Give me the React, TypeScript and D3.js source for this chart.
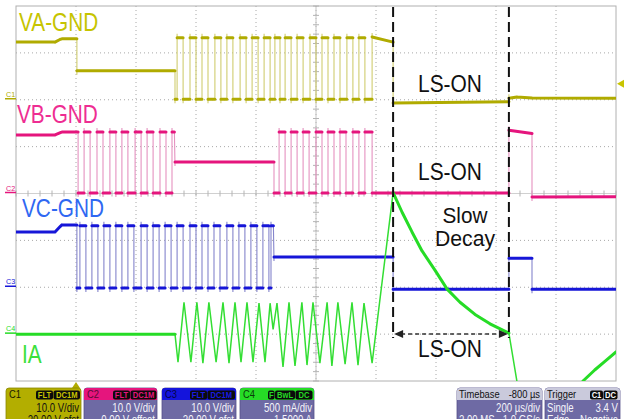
import React from 'react';
import * as d3 from 'd3';

const W = 624, H = 419;
const PX0 = 16, PX1 = 616, PY0 = 6, PY1 = 381;
const FONT = "'Liberation Sans', Arial, Helvetica, sans-serif";

// time axis (µs), trigger at 0, 200 µs/div, 10 divisions
const timeDomain = [-200, 1800];
// channel settings: volts (amps) per div and zero position in divisions from centre
const chPerDiv = [10, 10, 10, 0.5];
const chZeroDiv = [2, 0, -2, -3];

// ---- C1 : VA-GND (V) ----
const vaPre: [number, number][] = [[-200, 12.3], [-70, 12.3], [-52, 12.9], [-47, 13.0], [3, 13.0], [3, 6.2], [330, 6.2], [330, 0.1]];
const vaRise = [337, 380, 420, 463, 503, 547, 587, 627, 663, 697, 737, 780, 820, 860, 903, 943];
const vaFall = [357, 400, 440, 483, 523, 567, 607, 647, 680, 717, 757, 800, 840, 880, 923, 963];
const vaHigh = 13.2, vaLow = 0.1;
const vaPost: [number, number][] = [[987, 0.1], [987, 13.4], [1057, 12.3], [1057, -0.7], [1443, -0.4], [1443, 0.3], [1470, 0.6], [1520, 0.4], [1800, 0.3]];

// ---- C2 : VB-GND (V) ----
const vbPre: [number, number][] = [[-200, 12.5], [-70, 12.5], [-52, 13.0], [-47, 13.1], [7, 13.1], [7, 0.1]];
const vbRise1 = [27, 70, 113, 153, 197, 237, 280];
const vbFall1 = [47, 90, 133, 173, 217, 257, 300];
const vbMid: [number, number][] = [[320, 0.1], [320, 13.1], [328, 13.1], [330, 6.7], [660, 6.7], [660, 0.1]];
const vbRise2 = [677, 717, 757, 800, 840, 880, 923, 963];
const vbFall2 = [697, 737, 777, 820, 860, 900, 943, 987];
const vbHigh = 13.1, vbLow = 0.1;
const vbPost: [number, number][] = [[1443, 0.1], [1443, 13.5], [1520, 12.8], [1520, -0.75], [1800, -0.7]];

// ---- C3 : VC-GND (V) ----
const vcPre: [number, number][] = [[-200, 11.8], [-70, 11.8], [-52, 13.0], [-47, 13.3], [3, 13.3], [3, -0.15]];
const vcRise = [13, 53, 93, 133, 173, 217, 257, 297, 337, 380, 420, 460, 503, 543, 583, 623];
const vcFall = [33, 73, 113, 153, 193, 237, 277, 317, 357, 400, 440, 480, 523, 563, 603, 643];
const vcHigh = 13.1, vcLow = -0.15;
const vcPost: [number, number][] = [[650, -0.15], [650, 13.1], [658, 13.1], [660, 6.45], [1057, 6.45], [1057, -0.4], [1443, -0.4], [1443, 6.2], [1520, 6.2], [1520, -0.4], [1800, -0.4]];

// ---- C4 : IA (A) ----
const iaPoints: [number, number][] = [
  [-200, 0], [330, 0], [340, -0.30], [360, 0.34], [383, -0.30], [403, 0.34], [423, -0.31], [443, 0.34],
  [467, -0.30], [490, 0.34], [510, -0.31], [530, 0.34], [550, -0.30], [570, 0.34], [590, -0.30], [610, 0.33],
  [630, -0.30], [647, 0.33], [657, 0.05], [670, 0.33], [690, -0.35], [710, 0.34], [730, -0.34], [753, 0.34],
  [770, -0.33], [790, 0.34], [813, -0.31], [837, 0.34], [853, -0.34], [873, 0.34], [897, -0.32], [920, 0.34],
  [940, -0.33], [960, 0.33], [987, -0.31], [1057, 1.51], [1087, 1.30], [1120, 1.09], [1153, 0.89], [1197, 0.68],
  [1237, 0.48], [1280, 0.34], [1330, 0.21], [1380, 0.11], [1443, 0.01], [1480, -0.70], [1660, -0.75],
  [1690, -0.50], [1730, -0.38], [1763, -0.29], [1800, -0.19],
];

// annotations
const lsOnStart = 1057, lsOnEnd = 1443;
const triggerLevel = 3.4; // V on C1

function pulseTrain(rises: number[], falls: number[], hi: number, lo: number): [number, number][] {
  const out: [number, number][] = [];
  rises.forEach((r, i) => { out.push([r, lo], [r, hi], [falls[i], hi], [falls[i], lo]); });
  return out;
}

const vaData = [...vaPre, ...pulseTrain(vaRise, vaFall, vaHigh, vaLow), ...vaPost];
const vbData = [...vbPre, ...pulseTrain(vbRise1, vbFall1, vbHigh, vbLow), ...vbMid, ...pulseTrain(vbRise2, vbFall2, vbHigh, vbLow), ...vbPost];
const vcData = [...vcPre, ...pulseTrain(vcRise, vcFall, vcHigh, vcLow), ...vcPost];

const x = d3.scaleLinear().domain(timeDomain).range([PX0, PX1]);
const yScales = chPerDiv.map((pd, i) =>
  d3.scaleLinear().domain([(-4 - chZeroDiv[i]) * pd, (4 - chZeroDiv[i]) * pd]).range([PY1, PY0]));

function tracePaths(pts: [number, number][], ys: d3.ScaleLinear<number, number>, overshoot: number) {
  let thick = '', thin = '';
  for (let i = 1; i < pts.length; i++) {
    const x0 = x(pts[i - 1][0]), y0 = ys(pts[i - 1][1]);
    const x1 = x(pts[i][0]), y1 = ys(pts[i][1]);
    const dx = Math.abs(x1 - x0), dy = Math.abs(y1 - y0);
    if (dx === 0 && dy === 0) continue;
    if (dy <= 3 * dx) thick += `M${x0.toFixed(2)},${y0.toFixed(2)}L${x1.toFixed(2)},${y1.toFixed(2)}`;
    else {
      const ye = y1 + Math.sign(y1 - y0) * overshoot;
      thin += `M${x0.toFixed(2)},${y0.toFixed(2)}L${x1.toFixed(2)},${ye.toFixed(2)}`;
    }
  }
  return { thick, thin };
}

function ST({ x: tx, y: ty, sx = 0.82, anchor = 'start', size = 11, fill = '#fff', weight = 'normal', children }: any) {
  return (
    <text transform={`translate(${tx},${ty}) scale(${sx},1)`} textAnchor={anchor} fontSize={size}
      fill={fill} fontWeight={weight} fontFamily={FONT}>{children}</text>
  );
}

function Chip({ x0, w, label, fill }: any) {
  return (
    <g>
      <rect x={x0} y={390.5} width={w} height={9} rx={2} fill="#0b0b0b" />
      <ST x={x0 + w / 2} y={398.3} anchor="middle" size={9.5} sx={0.8} fill={fill} weight="bold">{label}</ST>
    </g>
  );
}

const traces = [
  { data: vaData, ch: 0, color: '#b0ab00', edge: '#d0cd70', tw: 3, nw: 1.1, os: 4 },
  { data: vbData, ch: 1, color: '#e5157d', edge: '#e592c0', tw: 3, nw: 1.1, os: 4 },
  { data: vcData, ch: 2, color: '#1616d8', edge: '#8585cc', tw: 3, nw: 1.1, os: 4 },
  { data: iaPoints, ch: 3, color: '#26dc26', edge: '#33de33', tw: 3, nw: 1.5, os: 0 },
];

const markers = [
  { label: 'C1', ch: 0, color: '#b0ab00' },
  { label: 'C2', ch: 1, color: '#e5157d' },
  { label: 'C3', ch: 2, color: '#1616d8' },
  { label: 'C4', ch: 3, color: '#26dc26' },
];

export default function App() {
  const gx = d3.range(11).map(i => PX0 + i * (PX1 - PX0) / 10);
  const gy = d3.range(9).map(i => PY0 + i * (PY1 - PY0) / 8);
  const cx = (PX0 + PX1) / 2, cy = (PY0 + PY1) / 2;
  const tickX = d3.range(51).map(i => PX0 + i * (PX1 - PX0) / 50);
  const tickY = d3.range(41).map(i => PY0 + i * (PY1 - PY0) / 40);
  const xs = x(lsOnStart), xe = x(lsOnEnd);
  const trigY = yScales[0](triggerLevel);
  const trigX = x(0);
  const arrowY = 334;

  return (
    <svg width={W} height={H} style={{ position: 'fixed', left: 0, top: 0, display: 'block' }}
      fontFamily={FONT}>
      <defs>
        <clipPath id="plot"><rect x={PX0} y={PY0} width={PX1 - PX0} height={PY1 - PY0} /></clipPath>
      </defs>
      <rect width={W} height={H} fill="#ffffff" />
      {/* grid */}
      <g>
        {gx.slice(1, -1).map((gxx, i) => (
          <line key={'gx' + i} x1={gxx} x2={gxx} y1={PY0} y2={PY1} stroke="#a8a8a8" strokeWidth={1} strokeDasharray="1,3" />
        ))}
        {gy.slice(1, -1).map((gyy, i) => (
          <line key={'gy' + i} x1={PX0} x2={PX1} y1={gyy} y2={gyy} stroke="#a8a8a8" strokeWidth={1} strokeDasharray="1,3" />
        ))}
        <line x1={cx} x2={cx} y1={PY0} y2={PY1} stroke="#c4c4c4" strokeWidth={1} />
        <line x1={PX0} x2={PX1} y1={cy} y2={cy} stroke="#d0d0d0" strokeWidth={1} />
        {tickY.map((t, i) => <line key={'ty' + i} x1={cx - 3} x2={cx + 3} y1={t} y2={t} stroke="#b4b4b4" />)}
        {tickX.map((t, i) => <line key={'tx' + i} x1={t} x2={t} y1={cy - 3} y2={cy + 3} stroke="#b4b4b4" />)}
        <rect x={PX0} y={PY0} width={PX1 - PX0} height={PY1 - PY0} fill="none" stroke="#b0b0b0" strokeWidth={1} />
      </g>

      {/* traces */}
      <g clipPath="url(#plot)">
        {traces.map((tr, i) => {
          const p = tracePaths(tr.data, yScales[tr.ch], tr.os);
          return (
            <g key={'tr' + i}>
              <path d={p.thin} stroke={tr.edge} strokeWidth={tr.nw} fill="none" />
              <path d={p.thick} stroke={tr.color} strokeWidth={tr.tw} fill="none" strokeLinecap="round" strokeLinejoin="round" />
            </g>
          );
        })}
      </g>

      {/* channel ground markers */}
      {markers.map((m, i) => {
        const y0 = yScales[m.ch](0);
        return (
          <g key={'m' + i}>
            <ST x={6} y={y0 - 3} size={8} sx={0.9} fill={m.color}>{m.label}</ST>
            <line x1={5} x2={16} y1={y0 - 1} y2={y0 - 1} stroke={m.color} strokeWidth={1.5} />
          </g>
        );
      })}

      {/* trigger level & position */}
      <path d={`M${PX1 + 1},${trigY} L${PX1 + 8},${trigY - 4} L${PX1 + 8},${trigY + 4} Z`} fill="#c8c400" />
      <path d={`M${trigX},${PY1 + 1} L${trigX - 4},${PY1 + 7} L${trigX + 4},${PY1 + 7} Z`} fill="#b0ab00" />

      {/* channel labels */}
      <ST x={19} y={31} size={26} sx={0.8} fill="#c6c400">VA-GND</ST>
      <ST x={17} y={123} size={26} sx={0.8} fill="#ee2d92">VB-GND</ST>
      <ST x={22} y={217} size={26} sx={0.8} fill="#2f68f2">VC-GND</ST>
      <ST x={22} y={363} size={26} sx={0.8} fill="#3be03b">IA</ST>

      {/* annotations */}
      <line x1={xs} x2={xs} y1={PY0 + 1} y2={338} stroke="#111" strokeWidth={2} strokeDasharray="10,5" />
      <line x1={xe} x2={xe} y1={PY0 + 1} y2={338} stroke="#111" strokeWidth={2} strokeDasharray="10,5" />
      <line x1={xs + 8} x2={xe - 8} y1={arrowY} y2={arrowY} stroke="#333" strokeWidth={1.5} strokeDasharray="4,3" />
      <path d={`M${xs + 1},${arrowY} L${xs + 10},${arrowY - 4} L${xs + 10},${arrowY + 4} Z`} fill="#222" />
      <path d={`M${xe - 1},${arrowY} L${xe - 10},${arrowY - 4} L${xe - 10},${arrowY + 4} Z`} fill="#222" />
      {[92, 180, 357].map((by, i) => (
        <text key={'ls' + i} x={450} y={by} textAnchor="middle" fontSize={23} fill="#111" fontFamily={FONT}
          textLength={64} lengthAdjust="spacingAndGlyphs">LS-ON</text>
      ))}
      <text x={465} y={223} textAnchor="middle" fontSize={22} fill="#111" fontFamily={FONT} textLength={45} lengthAdjust="spacingAndGlyphs">Slow</text>
      <text x={465} y={246} textAnchor="middle" fontSize={22} fill="#111" fontFamily={FONT} textLength={60} lengthAdjust="spacingAndGlyphs">Decay</text>

      {/* info boxes */}
      <g>
        {/* C1 */}
        <rect x={6} y={388} width={75} height={40} rx={3} fill="#b3ae00" stroke="#8c8800" strokeWidth={0.8} />
        <ST x={9} y={398} size={11} sx={0.85} fill="#1a1a00">C1</ST>
        <Chip x0={36} w={17} label="FLT" fill="#c8c400" />
        <Chip x0={53.5} w={26.5} label="DC1M" fill="#c8c400" />
        <ST x={79} y={411.5} anchor="end" size={12} sx={0.8} fill="#111">10.0 V/div</ST>
        <ST x={79} y={424} anchor="end" size={12} sx={0.8} fill="#111">20.00 V ofst</ST>

        {/* C2 */}
        <rect x={84} y={388} width={73} height={40} rx={3} fill="#6e6aa4" stroke="#55528a" strokeWidth={0.8} />
        <path d="M84,400 V391 a3,3 0 0 1 3,-3 H154 a3,3 0 0 1 3,3 V400 Z" fill="#e5157d" />
        <ST x={87} y={398} size={11} sx={0.85} fill="#5a0a35">C2</ST>
        <Chip x0={113} w={17} label="FLT" fill="#e5157d" />
        <Chip x0={130.5} w={26} label="DC1M" fill="#e5157d" />
        <ST x={155} y={411.5} anchor="end" size={12} sx={0.8} fill="#f4f4fa">10.0 V/div</ST>
        <ST x={155} y={424} anchor="end" size={12} sx={0.8} fill="#f4f4fa">0.00 V offset</ST>

        {/* C3 */}
        <rect x={162} y={388} width={74} height={40} rx={3} fill="#6e6aa4" stroke="#55528a" strokeWidth={0.8} />
        <path d="M162,400 V391 a3,3 0 0 1 3,-3 H233 a3,3 0 0 1 3,3 V400 Z" fill="#1414dc" />
        <ST x={165} y={398} size={11} sx={0.85} fill="#05054a">C3</ST>
        <Chip x0={190} w={17} label="FLT" fill="#1a1ae6" />
        <Chip x0={207.5} w={27.5} label="DC1M" fill="#1a1ae6" />
        <ST x={234} y={411.5} anchor="end" size={12} sx={0.8} fill="#f4f4fa">10.0 V/div</ST>
        <ST x={234} y={424} anchor="end" size={12} sx={0.8} fill="#f4f4fa">-20.00 V ofst</ST>

        {/* C4 */}
        <rect x={240} y={388} width={74} height={40} rx={3} fill="#6e6aa4" stroke="#55528a" strokeWidth={0.8} />
        <path d="M240,400 V391 a3,3 0 0 1 3,-3 H311 a3,3 0 0 1 3,3 V400 Z" fill="#26dc26" />
        <ST x={243} y={398} size={11} sx={0.85} fill="#0a3d0a">C4</ST>
        <Chip x0={268} w={6.5} label="F" fill="#26dc26" />
        <Chip x0={275} w={20} label="BwL" fill="#26dc26" />
        <Chip x0={295.5} w={17} label="DC" fill="#26dc26" />
        <ST x={312} y={411.5} anchor="end" size={12} sx={0.8} fill="#f4f4fa">500 mA/div</ST>
        <ST x={312} y={424} anchor="end" size={12} sx={0.8} fill="#f4f4fa">-1.5000 A</ST>

        {/* Timebase */}
        <rect x={457} y={388} width={85} height={40} rx={3} fill="#6e6aa4" stroke="#55528a" strokeWidth={0.8} />
        <path d="M457,400 V391 a3,3 0 0 1 3,-3 H539 a3,3 0 0 1 3,3 V400 Z" fill="#cacadc" />
        <ST x={459} y={398} size={11} sx={0.85} fill="#111">Timebase</ST>
        <ST x={540} y={398} anchor="end" size={11} sx={0.85} fill="#111">-800 µs</ST>
        <ST x={540} y={411.5} anchor="end" size={12} sx={0.8} fill="#f4f4fa">200 µs/div</ST>
        <ST x={459} y={424} size={12} sx={0.8} fill="#f4f4fa">2.00 MS</ST>
        <ST x={540} y={424} anchor="end" size={12} sx={0.8} fill="#f4f4fa">1.0 GS/s</ST>

        {/* Trigger */}
        <rect x={545} y={388} width={75} height={40} rx={3} fill="#6e6aa4" stroke="#55528a" strokeWidth={0.8} />
        <path d="M545,400 V391 a3,3 0 0 1 3,-3 H617 a3,3 0 0 1 3,3 V400 Z" fill="#cacadc" />
        <ST x={547} y={398} size={11} sx={0.85} fill="#111">Trigger</ST>
        <Chip x0={590} w={13} label="C1" fill="#ffffff" />
        <Chip x0={603.5} w={14} label="DC" fill="#ffffff" />
        <ST x={547} y={411.5} size={12} sx={0.8} fill="#f4f4fa">Single</ST>
        <ST x={618} y={411.5} anchor="end" size={12} sx={0.8} fill="#f4f4fa">3.4 V</ST>
        <ST x={547} y={424} size={12} sx={0.8} fill="#f4f4fa">Edge</ST>
        <ST x={618} y={424} anchor="end" size={12} sx={0.8} fill="#f4f4fa">Negative</ST>
      </g>
    </svg>
  );
}
